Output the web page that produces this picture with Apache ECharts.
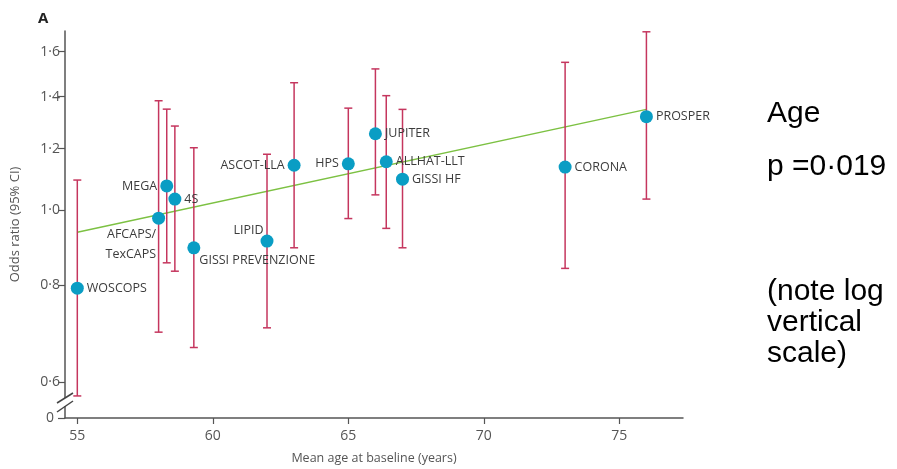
<!DOCTYPE html>
<html>
<head>
    <meta charset="utf-8" />
    <title>Odds ratio vs mean age</title>
    <script src="https://cdn.jsdelivr.net/npm/echarts@6/dist/echarts.min.js"></script>
    <style>
        html, body { margin: 0; padding: 0; background: #fff; }
        #main { width: 897px; height: 469px; }
    </style>
</head>
<body>
<div id="main"></div>
<script type="text/javascript">
    // trial names, mean age at baseline, odds ratio and 95% CI
    var studies = ['WOSCOPS', 'AFCAPS/\nTexCAPS', 'MEGA', '4S', 'GISSI PREVENZIONE', 'LIPID', 'ASCOT-LLA',
        'HPS', 'JUPITER', 'ALLHAT-LLT', 'GISSI HF', 'CORONA', 'PROSPER'];
    var meanAge = [55.0, 58.0, 58.3, 58.6, 59.3, 62.0, 63.0, 65.0, 66.0, 66.4, 67.0, 73.0, 76.0];
    var oddsRatio = [0.793, 0.976, 1.074, 1.033, 0.894, 0.912, 1.142, 1.147, 1.254, 1.154, 1.096, 1.136, 1.319];
    var ciLow = [0.576, 0.696, 0.855, 0.834, 0.665, 0.705, 0.894, 0.975, 1.046, 0.947, 0.894, 0.841, 1.033];
    var ciHigh = [1.093, 1.383, 1.349, 1.283, 1.203, 1.180, 1.459, 1.353, 1.520, 1.404, 1.348, 1.550, 1.697];

    // meta-regression line
    var trendAge = [55, 76];
    var trendOR = [0.936, 1.348];

    // tick labels
    var xTicks = [55, 60, 65, 70, 75];
    var yTicks = [0.6, 0.8, 1.0, 1.2, 1.4, 1.6];

    var yMin = 0.5395, yMax = 1.701;
    var xMin = 54.546, xMax = 77.35;

    var red = '#c5365e', teal = '#0a9dc4', green = '#7cc142', axisCol = '#555';

    // where each label sits relative to its point
    var labelPlace = {
        'AFCAPS/\nTexCAPS': { position: [4, 13], align: 'right', verticalAlign: 'top', lineHeight: 20 },
        'MEGA': { position: 'left' },
        'GISSI PREVENZIONE': { position: [12, 19], align: 'left', verticalAlign: 'middle' },
        'LIPID': { position: [3, -4], align: 'right', verticalAlign: 'middle' },
        'ASCOT-LLA': { position: 'left' },
        'HPS': { position: 'left' }
    };

    var points = [];
    var bars = [];
    for (var i = 0; i < studies.length; i++) {
        var item = { name: studies[i], value: [meanAge[i], oddsRatio[i]] };
        if (labelPlace[studies[i]]) item.label = labelPlace[studies[i]];
        points.push(item);
        bars.push([meanAge[i], ciLow[i], ciHigh[i]]);
    }
    var trend = [];
    for (var j = 0; j < trendAge.length; j++) trend.push([trendAge[j], trendOR[j]]);

    var option = {
        backgroundColor: '#fff',
        animation: false,
        grid: { left: 65, right: 214, top: 31, bottom: 51, outerBoundsMode: 'none' },
        xAxis: {
            type: 'value',
            min: xMin,
            max: xMax,
            name: 'Mean age at baseline (years)',
            nameLocation: 'middle',
            nameGap: 34,
            nameTextStyle: { color: axisCol, fontSize: 12.5, fontFamily: 'Open Sans' },
            splitLine: { show: false },
            axisLine: { lineStyle: { color: axisCol, width: 1.5 } },
            axisTick: { customValues: xTicks, length: 6, lineStyle: { color: axisCol, width: 1.2 } },
            axisLabel: { customValues: xTicks, color: axisCol, fontSize: 14, fontFamily: 'Open Sans', margin: 11 }
        },
        yAxis: {
            type: 'log',
            logBase: 10,
            min: yMin,
            max: yMax,
            name: 'Odds ratio (95% CI)',
            nameLocation: 'middle',
            nameGap: 43,
            nameTextStyle: { color: axisCol, fontSize: 13, fontFamily: 'Open Sans' },
            splitLine: { show: false },
            axisLine: { onZero: false, lineStyle: { color: axisCol, width: 1.5 } },
            axisTick: { customValues: [yMin].concat(yTicks), length: 7, lineStyle: { color: axisCol, width: 1.2 } },
            axisLabel: {
                customValues: [yMin].concat(yTicks),
                color: axisCol, fontSize: 14, fontFamily: 'Open Sans', margin: 5,
                formatter: function (v) {
                    if (v < 0.55) return '{z|0}';
                    return Number(v).toFixed(1).replace('.', '\u00b7');
                },
                rich: { z: { color: axisCol, fontSize: 14, fontFamily: 'Open Sans', padding: [0, 6, 0, 0] } }
            }
        },
        series: [{
            name: 'trend',
            type: 'line',
            data: trend,
            symbol: 'none',
            lineStyle: { color: green, width: 1.5 },
            z: 1
        }, {
            name: 'ci',
            type: 'custom',
            data: bars,
            encode: { x: 0, y: [1, 2] },
            renderItem: function (params, api) {
                var top = api.coord([api.value(0), api.value(2)]);
                var bot = api.coord([api.value(0), api.value(1)]);
                var w = 4;
                var st = { stroke: red, lineWidth: 1.5 };
                return {
                    type: 'group',
                    children: [
                        { type: 'line', shape: { x1: top[0], y1: top[1], x2: bot[0], y2: bot[1] }, style: st },
                        { type: 'line', shape: { x1: top[0] - w, y1: top[1], x2: top[0] + w, y2: top[1] }, style: st },
                        { type: 'line', shape: { x1: bot[0] - w, y1: bot[1], x2: bot[0] + w, y2: bot[1] }, style: st }
                    ]
                };
            },
            z: 2
        }, {
            name: 'studies',
            type: 'scatter',
            data: points,
            symbolSize: 13,
            itemStyle: { color: teal, opacity: 1 },
            label: {
                show: true,
                position: 'right',
                distance: 3,
                formatter: '{b}',
                color: '#3c3c3c',
                fontSize: 12.5,
                fontFamily: 'Open Sans'
            },
            z: 3
        }],
        graphic: [
            { type: 'text', left: 38, top: 11, style: { text: 'A', font: 'bold 15px "Open Sans"', fill: '#222' } },
            // axis break on the y axis
            { type: 'rect', shape: { x: 62, y: 398, width: 7, height: 8 }, style: { fill: '#fff' }, z: 50 },
            { type: 'line', shape: { x1: 57, y1: 403, x2: 73, y2: 393 }, style: { stroke: '#444', lineWidth: 1.5 }, z: 51 },
            { type: 'line', shape: { x1: 57, y1: 412, x2: 73, y2: 401 }, style: { stroke: '#444', lineWidth: 1.5 }, z: 51 },
            // notes on the right
            { type: 'text', left: 767, top: 99, style: { text: 'Age', font: '30px "Liberation Sans"', fill: '#000' } },
            { type: 'text', left: 767, top: 152, style: { text: 'p =0\u00b7019', font: '30px "Liberation Sans"', fill: '#000' } },
            { type: 'text', left: 767, top: 276, style: { text: '(note log\nvertical\nscale)', font: '30px "Liberation Sans"', lineHeight: 31, fill: '#000' } }
        ]
    };

    var myChart = echarts.init(document.getElementById('main'));
    myChart.setOption(option);
</script>
</body>
</html>
